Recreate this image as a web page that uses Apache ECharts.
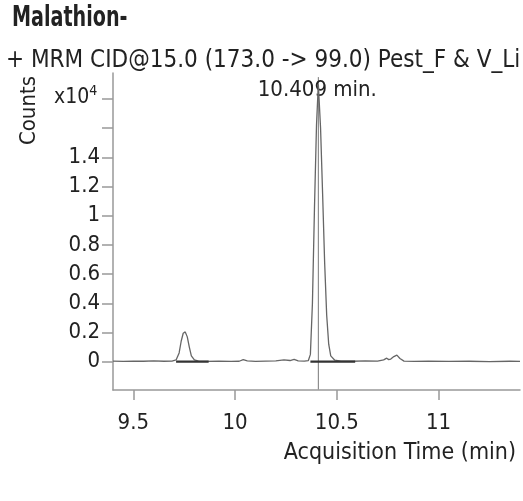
<!DOCTYPE html>
<html><head><meta charset="utf-8">
<script src="https://cdn.jsdelivr.net/npm/echarts@6/dist/echarts.min.js"></script>
<style>html,body{margin:0;padding:0;background:#fff}#c{width:523px;height:501px}</style>
</head><body><div id="c"></div>
<script>
const FONT = "'DejaVu Sans Condensed','DejaVu Sans',sans-serif";
const titleText = 'Malathion-';
const subtitleText = '+ MRM CID@15.0 (173.0 -> 99.0) Pest_F & V_Li';
const yUnitBase = 'x10';
const yUnitExp = '4';
const peakLabel = '10.409 min.';
const xAxisName = 'Acquisition Time (min)';
const yAxisName = 'Counts';

const xTicks = [9.5, 10, 10.5, 11];
const yTicks = [0, 0.2, 0.4, 0.6, 0.8, 1, 1.2, 1.4, 1.6, 1.8];
const yLabels = [0, 0.2, 0.4, 0.6, 0.8, 1, 1.2, 1.4];

// acquisition time (min) and counts (x10^4)
const time = [9.40, 9.45, 9.50, 9.55, 9.60, 9.65, 9.69, 9.71, 9.725, 9.735, 9.745, 9.755, 9.765, 9.775, 9.785, 9.80, 9.82, 9.86, 9.92, 9.98, 10.02, 10.04, 10.06, 10.10, 10.15, 10.20, 10.24, 10.27, 10.29, 10.31, 10.34, 10.36, 10.37, 10.38, 10.39, 10.40, 10.409, 10.42, 10.43, 10.44, 10.45, 10.46, 10.47, 10.49, 10.52, 10.58, 10.64, 10.70, 10.73, 10.745, 10.755, 10.765, 10.78, 10.795, 10.81, 10.83, 10.88, 10.95, 11.05, 11.15, 11.25, 11.35, 11.40];
const counts = [0.004, 0.002, 0.004, 0.003, 0.005, 0.003, 0.004, 0.012, 0.06, 0.14, 0.195, 0.204, 0.17, 0.10, 0.04, 0.012, 0.004, 0.002, 0.004, 0.002, 0.003, 0.014, 0.006, 0.002, 0.004, 0.006, 0.012, 0.008, 0.016, 0.006, 0.004, 0.008, 0.05, 0.40, 1.05, 1.62, 1.90, 1.60, 1.15, 0.68, 0.32, 0.12, 0.04, 0.01, 0.004, 0.003, 0.005, 0.004, 0.012, 0.024, 0.014, 0.018, 0.035, 0.045, 0.022, 0.004, 0.002, 0.004, 0.002, 0.003, 0.001, 0.003, 0.002];

const peakRT = 10.409;
const markerSpan = [-0.19, 1.95];
const integrationStart = [9.71, 10.37];
const integrationEnd = [9.87, 10.59];
const integrationLevel = [0, 0];

const chart = echarts.init(document.getElementById('c'), null, {renderer: 'canvas'});

const traceData = time.map((t, i) => [t, counts[i]]);
const integrationSeries = integrationStart.map((s, i) => ({
  type: 'line', data: [[s, integrationLevel[i]], [integrationEnd[i], integrationLevel[i]]],
  showSymbol: false, silent: true, z: 4,
  lineStyle: {color: '#333', width: 2.2}
}));

chart.setOption({
  animation: false,
  backgroundColor: '#fff',
  textStyle: {fontFamily: FONT},
  title: [
    {text: subtitleText, left: 1, top: 44,
     textStyle: {fontFamily: FONT, fontSize: 24, fontWeight: 'normal', color: '#222'}},
    {text: '{b|' + yUnitBase + '}{e|' + yUnitExp + '}', left: 49, top: 79,
     textStyle: {rich: {
       b: {fontFamily: FONT, fontSize: 21, fontWeight: 'normal', color: '#222', verticalAlign: 'bottom'},
       e: {fontFamily: FONT, fontSize: 14, fontWeight: 'normal', color: '#222', verticalAlign: 'top', padding: [0,0,10,0]}
     }}}
  ],
  graphic: [
    {type: 'text', x: 12, y: 18.5, scaleX: 0.76,
     style: {text: titleText, x: 0, y: 0, fontFamily: FONT, fontSize: 28, fontWeight: 'bold', fill: '#222',
       align: 'left', verticalAlign: 'middle'}},
    {type: 'text', left: 18, top: 76, rotation: Math.PI / 2,
     style: {text: yAxisName, fontFamily: FONT, fontSize: 22, fill: '#222'}}
  ],
  grid: {left: 113, right: 3, top: 73, bottom: 111, containLabel: false, outerBoundsMode: 'none'},
  xAxis: {
    type: 'value', min: 9.40, max: 11.40,
    name: xAxisName, nameLocation: 'end', nameGap: 0,
    nameTextStyle: {fontFamily: FONT, fontSize: 23, color: '#222', align: 'right', verticalAlign: 'top', padding: [52, 4, 0, 0]},
    splitLine: {show: false},
    axisLine: {onZero: false, lineStyle: {color: '#999', width: 1.5}},
    axisTick: {show: true, length: 10, inside: false, customValues: xTicks, lineStyle: {color: '#999', width: 1.5}},
    axisLabel: {customValues: xTicks, margin: 22, fontFamily: FONT, fontSize: 22, color: '#222',
      formatter: v => String(v)}
  },
  yAxis: {
    type: 'value', min: -0.194, max: 1.978,
    splitLine: {show: false},
    axisLine: {onZero: false, lineStyle: {color: '#999', width: 1.5}},
    axisTick: {show: true, length: 11, inside: false, customValues: yTicks, lineStyle: {color: '#999', width: 1.5}},
    axisLabel: {customValues: yLabels, margin: 13, fontFamily: FONT, fontSize: 22, color: '#222',
      formatter: v => String(v)}
  },
  series: [
    {type: 'line', data: traceData, showSymbol: false, silent: true, z: 3,
     lineStyle: {color: '#666', width: 1.3}},
    ...integrationSeries,
    {type: 'line', data: [[peakRT, markerSpan[0]], [peakRT, markerSpan[1]]], showSymbol: false, silent: true, z: 2,
     clip: false, lineStyle: {color: '#777', width: 1},
     endLabel: {show: true, formatter: peakLabel, fontFamily: FONT, fontSize: 22, color: '#222',
       align: 'center', verticalAlign: 'middle', offset: [-9, 13]}}
  ]
});
</script>
</body></html>
